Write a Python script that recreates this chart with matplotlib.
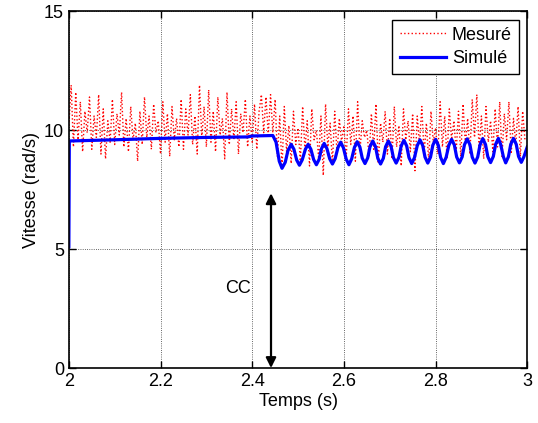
import matplotlib
matplotlib.use("Agg")
import matplotlib.pyplot as plt
import numpy as np

# mesure : vitesse echantillonnee toutes les 5 ms a partir de t = 2 s
debut_mesure = 2.0
pas_mesure = 0.005
vitesse_mesure = [
    10.2, 11.9, 9.3, 11.6, 9.6, 11.2, 9.1, 10.8, 9.9, 11.4,
    9.2, 10.6, 9.7, 11.5, 9.0, 10.9, 8.8, 10.4, 9.5, 11.3,
    9.4, 10.7, 9.8, 11.6, 9.3, 10.5, 9.1, 11.0, 9.6, 10.3,
    8.7, 10.8, 9.4, 11.4, 9.7, 10.6, 9.2, 11.1, 9.9, 10.4,
    9.0, 11.2, 9.5, 10.7, 8.9, 11.0, 9.6, 10.5, 9.3, 11.3,
    9.2, 10.9, 9.8, 11.5, 9.4, 10.6, 9.0, 11.9, 9.7, 11.0,
    9.3, 11.7, 9.5, 10.8, 9.1, 11.4, 9.8, 10.5, 8.8, 11.6,
    9.4, 10.9, 9.6, 11.2, 9.0, 10.7, 9.9, 11.3, 9.3, 10.6,
    9.5, 11.1, 9.2, 10.8,
    11.5, 9.9, 11.4, 9.8, 11.5, 9.9,
    11.3, 8.9, 10.6, 8.4, 11.0, 9.1, 10.2, 8.6, 10.8, 9.4,
    10.1, 8.7, 11.0, 9.2, 10.4, 8.5, 10.9, 9.6, 10.0, 8.8,
    10.6, 8.1, 11.1, 9.3, 10.3, 8.6, 10.8, 9.0, 10.5, 9.5,
    10.2, 8.8, 10.9, 9.4, 10.6, 8.7, 11.2, 9.1, 10.4, 9.7,
    10.0, 8.9, 10.7, 9.2, 11.1, 8.6, 10.3, 9.5, 10.8, 9.0,
    10.5, 8.8, 11.0, 9.3, 10.2, 8.5, 10.9, 9.6, 10.4, 9.1,
    10.7, 8.3, 10.6, 9.4, 11.0, 9.0, 10.3, 8.7, 10.8, 9.5,
    10.1, 9.0, 11.2, 9.3, 10.6, 8.8, 10.9, 9.6, 10.4, 9.1,
    10.8, 8.9, 11.1, 9.4, 10.5, 9.0, 11.3, 9.7, 11.5, 9.2,
    10.6, 8.8, 11.0, 9.5, 10.4, 9.1, 10.9, 9.3, 11.2, 8.9,
    10.7, 9.6, 11.2, 9.0, 10.5, 9.4, 11.0, 8.9, 10.8, 9.6,
]
temps_mesure = debut_mesure + pas_mesure * np.arange(len(vitesse_mesure))

# simulation : points
temps_simule = [
    2.0, 2.001, 2.10, 2.20, 2.30, 2.39, 2.40, 2.445, 2.452, 2.459,
    2.465, 2.472, 2.478, 2.485, 2.491, 2.497,
    2.503, 2.509, 2.516, 2.522, 2.528, 2.534,
    2.540, 2.546, 2.551, 2.557, 2.563, 2.569,
    2.575, 2.581, 2.587, 2.593, 2.599, 2.605,
    2.611, 2.617, 2.623, 2.629, 2.635, 2.640,
    2.646, 2.652, 2.657, 2.663, 2.669, 2.674,
    2.680, 2.686, 2.691, 2.697, 2.703, 2.708,
    2.714, 2.720, 2.725, 2.731, 2.737, 2.742,
    2.748, 2.754, 2.760, 2.766, 2.772, 2.777,
    2.783, 2.789, 2.794, 2.800, 2.806, 2.811,
    2.817, 2.823, 2.829, 2.835, 2.841, 2.846,
    2.852, 2.858, 2.863, 2.869, 2.875, 2.880,
    2.886, 2.892, 2.897, 2.903, 2.909, 2.914,
    2.920, 2.926, 2.931, 2.937, 2.942, 2.948,
    2.953, 2.959, 2.964, 2.970, 2.976, 2.981,
    2.987, 2.993, 3.0,
]
vitesse_simule = [
    5.1, 9.55, 9.6, 9.66, 9.7, 9.72, 9.76, 9.78, 9.5, 8.7,
    8.40, 8.65, 9.15, 9.41, 9.20, 8.75,
    8.53, 8.75, 9.20, 9.41, 9.20, 8.77,
    8.55, 8.78, 9.22, 9.45, 9.23, 8.80,
    8.58, 8.81, 9.27, 9.50, 9.26, 8.79,
    8.55, 8.80, 9.28, 9.52, 9.29, 8.83,
    8.60, 8.84, 9.31, 9.55, 9.31, 8.82,
    8.58, 8.82, 9.31, 9.55, 9.32, 8.85,
    8.62, 8.86, 9.34, 9.58, 9.34, 8.85,
    8.60, 8.85, 9.35, 9.60, 9.36, 8.87,
    8.62, 8.87, 9.37, 9.62, 9.37, 8.86,
    8.60, 8.86, 9.37, 9.62, 9.38, 8.88,
    8.63, 8.88, 9.39, 9.64, 9.39, 8.87,
    8.62, 8.88, 9.39, 9.65, 9.40, 8.89,
    8.64, 8.90, 9.41, 9.66, 9.41, 8.88,
    8.63, 8.89, 9.41, 9.66, 9.41, 8.90,
    8.65, 8.90, 9.30,
]

# court-circuit
t_cc = 2.441
haut_fleche = 7.35
texte_cc = "CC"

xticks = [2, 2.2, 2.4, 2.6, 2.8, 3]
yticks = [0, 5, 10, 15]

plt.rcParams['font.family'] = ['Liberation Sans', 'DejaVu Sans']

fig = plt.figure(figsize=(5.38, 4.23), dpi=100)
ax = fig.add_axes([0.128, 0.130, 0.852, 0.843])

ax.plot(temps_mesure, vitesse_mesure, 'r:', lw=1.0, label='Mesuré')
ax.plot(temps_simule, vitesse_simule, 'b-', lw=2.3, label='Simulé',
        solid_joinstyle='round')

ax.annotate('', xy=(t_cc, 0), xytext=(t_cc, haut_fleche),
            arrowprops=dict(arrowstyle='<|-|>', color='k', lw=1.6,
                            mutation_scale=15, shrinkA=0, shrinkB=0))
ax.text(2.398, 3.36, texte_cc, ha='right', va='center', fontsize=13)

ax.set_xlim(2, 3)
ax.set_ylim(0, 15)
ax.set_xticks(xticks)
ax.set_xticklabels(['2', '2.2', '2.4', '2.6', '2.8', '3'])
ax.set_yticks(yticks)
ax.tick_params(direction='in', top=True, right=True, length=5,
               labelsize=13, width=1)
ax.grid(True, linestyle=':', color='k', lw=0.6, alpha=0.8)
for s in ax.spines.values():
    s.set_linewidth(1.2)

ax.set_xlabel('Temps (s)', fontsize=13, labelpad=2)
ax.set_ylabel('Vitesse (rad/s)', fontsize=13, labelpad=3)

leg = ax.legend(loc='upper right', fontsize=13, fancybox=False,
                edgecolor='k', framealpha=1, handlelength=2.6,
                borderaxespad=0.45, labelspacing=0.35, handletextpad=0.3,
                borderpad=0.4)
leg.get_frame().set_linewidth(1.0)

fig.savefig('out.png', dpi=100)
